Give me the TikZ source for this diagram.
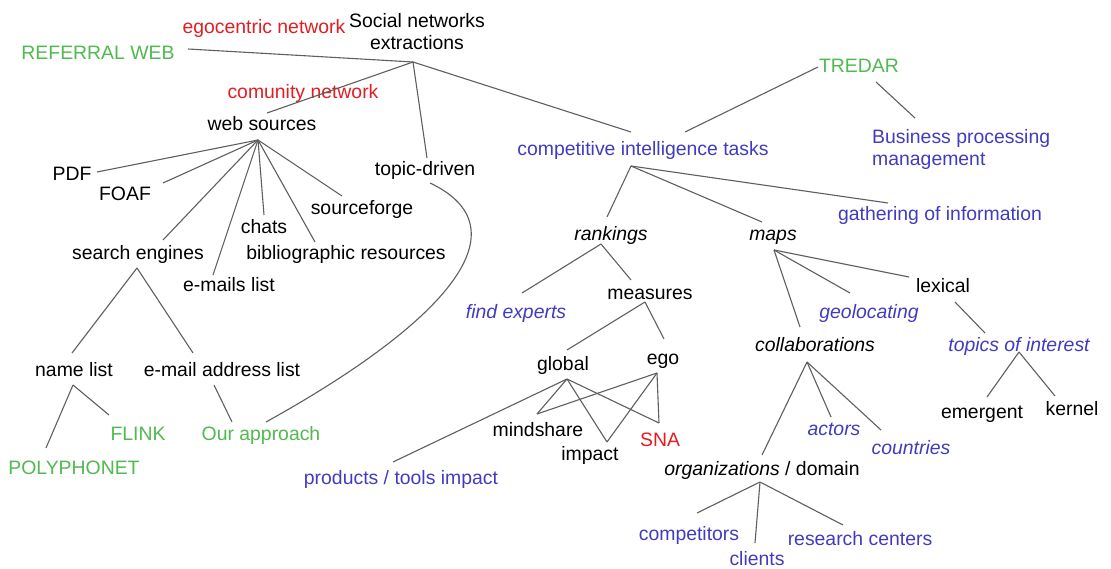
\documentclass[tikz,border=0pt]{standalone}
\usepackage{fontspec}
\setmainfont{Liberation Sans}
\definecolor{cgreen}{RGB}{80,185,80}
\definecolor{cred}{RGB}{225,30,35}
\definecolor{cblue}{RGB}{65,60,190}
\definecolor{cline}{RGB}{95,95,95}
\tikzset{
  lbl/.style={font=\fontsize{19.4}{22.5}\selectfont, inner sep=0pt, text height=17pt, text depth=1pt, anchor=center},
  mlbl/.style={font=\fontsize{19.4}{22.5}\selectfont, inner sep=0pt},
  ital/.style={font=\fontsize{19.4}{22.5}\selectfont\itshape},
  tgreen/.style={text=cgreen},
  tred/.style={text=cred},
  tblue/.style={text=cblue},
  conn/.style={draw=cline, line width=1.1pt}
}
\begin{document}
\begin{tikzpicture}[x=1pt,y=-1pt]
\useasboundingbox (0,0) rectangle (1111,569);
\fill[white] (0,0) rectangle (1111,569);

% ---- nodes
\node[lbl,tred] (egon) at (264,26) {egocentric network};
\node[mlbl,align=center,anchor=north] (sne) at (417,13) {Social networks\\extractions};
\node[lbl,tgreen] (ref) at (98,52) {REFERRAL WEB};
\node[lbl,tred] (com) at (303,91) {comunity network};
\node[lbl] (ws) at (262,123) {web sources};
\node[lbl,tgreen] (tredar) at (859,65) {TREDAR};
\node[lbl,tblue] (cit) at (643,148) {competitive intelligence tasks};
\node[mlbl,tblue,align=left,anchor=north west] (bpm) at (872,129) {Business processing\\management};
\node[lbl] (pdf) at (72,173) {PDF};
\node[lbl] (foaf) at (125,193) {FOAF};
\node[lbl] (src) at (362,207) {sourceforge};
\node[lbl] (chats) at (264,226) {chats};
\node[lbl] (se) at (138,252) {search engines};
\node[lbl] (bib) at (346,252) {bibliographic resources};
\node[lbl] (eml) at (229,284) {e-mails list};
\node[lbl] (topic) at (425,168) {topic-driven};
\node[lbl] (nl) at (74,368) {name list};
\node[lbl] (eal) at (222,368) {e-mail address list};
\node[lbl,tgreen] (flink) at (138,432) {FLINK};
\node[lbl,tgreen] (poly) at (74,466) {POLYPHONET};
\node[lbl,tgreen] (our) at (261,432) {Our approach};
\node[lbl,ital] (rank) at (611,233) {rankings};
\node[lbl,ital] (maps) at (773,233) {maps};
\node[lbl,tblue] (gath) at (940,213) {gathering of information};
\node[lbl,ital,tblue] (fe) at (516,311) {find experts};
\node[lbl] (meas) at (650,292) {measures};
\node[lbl] (lex) at (943,285) {lexical};
\node[lbl,ital,tblue] (geo) at (869,311) {geolocating};
\node[lbl,ital] (coll) at (815,343) {collaborations};
\node[lbl,ital,tblue] (toi) at (1019,343) {topics of interest};
\node[lbl] (glob) at (563,362) {global};
\node[lbl] (ego) at (663,356) {ego};
\node[lbl] (mind) at (538,428) {mindshare};
\node[lbl] (imp) at (590,452) {impact};
\node[lbl,tred] (sna) at (660,438) {SNA};
\node[lbl,tblue] (prod) at (401,476) {products / tools impact};
\node[lbl,ital,tblue] (act) at (834,427) {actors};
\node[lbl,ital,tblue] (ctry) at (911,446) {countries};
\node[lbl] (org) at (762,467) {\textit{organizations} / domain};
\node[lbl,tblue] (comp) at (689,532) {competitors};
\node[lbl,tblue] (cli) at (757,557) {clients};
\node[lbl,tblue] (rc) at (860,537) {research centers};
\node[lbl] (emer) at (982,410) {emergent};
\node[lbl] (kern) at (1072,407) {kernel};

% ---- branch points
\coordinate (rootH) at (413,62);
\coordinate (wsH) at (258,140);
\coordinate (seH) at (137,268);
\coordinate (nlH) at (73,385);
\coordinate (citH) at (631,166);
\coordinate (rankH) at (601,244);
\coordinate (measH) at (645,302);
\coordinate (mapsH) at (774,250);
\coordinate (collH) at (807,362);
\coordinate (orgH) at (760,482);
\coordinate (toiH) at (1019,352);
\coordinate (globH) at (567,379);
\coordinate (egoH) at (657,373);

% ---- connectors
\draw[conn] (rootH) -- ([shift={(90,-3)}]ref.center);
\draw[conn] (rootH) -- ([shift={(5,-10)}]ws.center);
\draw[conn] (rootH) -- ([shift={(2,-10)}]topic.center);
\draw[conn] (rootH) -- ([shift={(-12,-16)}]cit.center);
\draw[conn] ([shift={(42,-16)}]cit.center) -- ([shift={(-41,2)}]tredar.center);
\draw[conn] ([shift={(17,17)}]tredar.center) -- ([shift={(43,-11)}]bpm.north west);

\draw[conn] (wsH) -- ([shift={(25,-1)}]pdf.center);
\draw[conn] (wsH) -- ([shift={(38,-10)}]foaf.center);
\draw[conn] (wsH) -- ([shift={(25,-12)}]se.center);
\draw[conn] (wsH) -- ([shift={(-16,-9)}]eml.center);
\draw[conn] (wsH) -- ([shift={(0,-11)}]chats.center);
\draw[conn] (wsH) -- ([shift={(-31,-10)}]bib.center);
\draw[conn] (wsH) -- ([shift={(-20,-11)}]src.center);

\draw[conn] (seH) -- ([shift={(-2,-15)}]nl.center);
\draw[conn] (seH) -- ([shift={(-29,-15)}]eal.center);
\draw[conn] (nlH) -- ([shift={(-28,-18)}]poly.center);
\draw[conn] (nlH) -- ([shift={(-29,-17)}]flink.center);
\draw[conn] ([shift={(-8,17)}]eal.center) -- ([shift={(-29,-10)}]our.center);
\draw[conn] ([shift={(5,15)}]topic.center) .. controls (525,228) and (450,320) .. ([shift={(5,-10)}]our.center);

\draw[conn] (citH) -- ([shift={(-4,-16)}]rank.center);
\draw[conn] (citH) -- ([shift={(-11,-11)}]maps.center);
\draw[conn] (citH) -- ([shift={(-52,-10)}]gath.center);
\draw[conn] (rankH) -- ([shift={(6,-18)}]fe.center);
\draw[conn] (rankH) -- ([shift={(-19,-12)}]meas.center);
\draw[conn] (measH) -- ([shift={(4,-12)}]glob.center);
\draw[conn] (measH) -- ([shift={(1,-17)}]ego.center);

\draw[conn] (mapsH) -- ([shift={(-15,-16)}]coll.center);
\draw[conn] (mapsH) -- ([shift={(-19,-18)}]geo.center);
\draw[conn] (mapsH) -- ([shift={(-34,-8)}]lex.center);
\draw[conn] ([shift={(12,17)}]lex.center) -- ([shift={(-34,-10)}]toi.center);
\draw[conn] (toiH) -- ([shift={(5,-13)}]emer.center);
\draw[conn] (toiH) -- ([shift={(-17,-11)}]kern.center);

\draw[conn] (collH) -- ([shift={(0,-12)}]org.center);
\draw[conn] (collH) -- ([shift={(-3,-10)}]act.center);
\draw[conn] (collH) -- ([shift={(-30,-16)}]ctry.center);
\draw[conn] (orgH) -- ([shift={(8,-19)}]comp.center);
\draw[conn] (orgH) -- ([shift={(-2,-14)}]cli.center);
\draw[conn] (orgH) -- ([shift={(-17,-12)}]rc.center);

\draw[conn] (globH) -- ([shift={(-1,-14)}]mind.center);
\draw[conn] (globH) -- ([shift={(17,-10)}]imp.center);
\draw[conn] (globH) -- ([shift={(-1,-15)}]sna.center);
\draw[conn] (globH) -- ([shift={(-8,-14)}]prod.center);
\draw[conn] (egoH) -- ([shift={(-1,-14)}]mind.center);
\draw[conn] (egoH) -- ([shift={(17,-10)}]imp.center);
\draw[conn] (egoH) -- ([shift={(-1,-15)}]sna.center);
\end{tikzpicture}
\end{document}
